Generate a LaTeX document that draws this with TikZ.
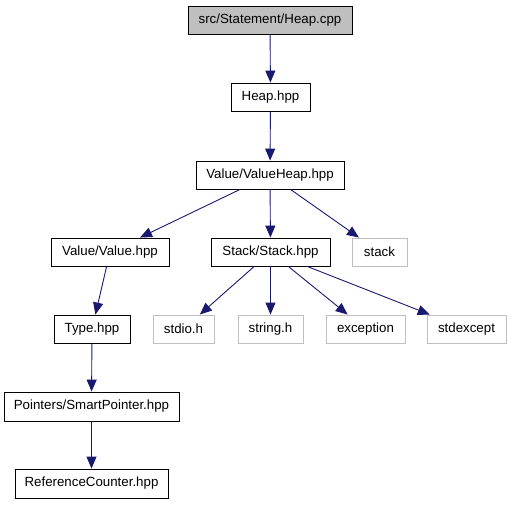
\documentclass[tikz,border=0pt]{standalone}
\usepackage{fontspec}
\setmainfont{Liberation Sans}
\usetikzlibrary{arrows.meta}
\definecolor{edgeblue}{HTML}{191970}
\definecolor{lgray}{HTML}{BFBFBF}
\begin{document}
\begin{tikzpicture}[x=1pt,y=-1pt,
  box/.style={draw=black,line width=0.9pt,fill=white,inner sep=0pt,minimum height=28pt,font=\fontsize{13.3}{15}\selectfont},
  sysbox/.style={box,draw=lgray},
  dep/.style={draw=edgeblue,line width=0.9pt,-{Triangle[length=12pt,width=10pt]}}]
\useasboundingbox (0,0) rectangle (511,504);
\node[box,fill=lgray,minimum width=164pt] (cpp) at (270,20) {src/Statement/Heap.cpp};
\node[box,minimum width=79pt] (heap) at (270.5,97) {Heap.hpp};
\node[box,minimum width=148pt] (vheap) at (270,175) {Value/ValueHeap.hpp};
\node[box,minimum width=118pt] (value) at (110,252) {Value/Value.hpp};
\node[box,minimum width=119pt] (stackh) at (270.5,252) {Stack/Stack.hpp};
\node[sysbox,minimum width=55pt] (stack) at (379.5,252) {stack};
\node[box,minimum width=76pt] (type) at (92,329) {Type.hpp};
\node[sysbox,minimum width=61pt] (stdio) at (183.5,329) {stdio.h};
\node[sysbox,minimum width=65pt] (string) at (270.5,329) {string.h};
\node[sysbox,minimum width=79pt] (exc) at (365.5,329) {exception};
\node[sysbox,minimum width=79pt] (stdexc) at (466.5,329) {stdexcept};
\node[box,minimum width=175pt,minimum height=29pt] (smart) at (91.5,406.5) {Pointers/SmartPointer.hpp};
\node[box,minimum width=153pt,minimum height=29pt] (ref) at (91.5,483.5) {ReferenceCounter.hpp};
\draw[dep] (cpp) -- (heap);
\draw[dep] (heap) -- (vheap);
\draw[dep] (vheap) -- (value);
\draw[dep] (vheap) -- (stackh);
\draw[dep] (vheap) -- (stack);
\draw[dep] (value) -- (type);
\draw[dep] (type) -- (smart);
\draw[dep] (smart) -- (ref);
\draw[dep] (stackh) -- (stdio);
\draw[dep] (stackh) -- (string);
\draw[dep] (stackh) -- (exc);
\draw[dep] (stackh) -- (stdexc);
\end{tikzpicture}
\end{document}
